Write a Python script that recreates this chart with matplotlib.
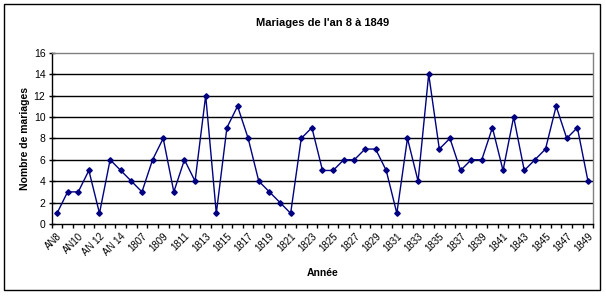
import matplotlib
matplotlib.use("Agg")
import matplotlib.pyplot as plt
from matplotlib.patches import Rectangle
from matplotlib.ticker import FixedLocator

plt.rcParams['font.family'] = ['Liberation Sans', 'DejaVu Sans']

# Données : nombre de mariages par année
annees = ['AN8', 'AN9', 'AN10', 'AN11', 'AN 12', 'AN 13', 'AN 14'] + \
         [str(a) for a in range(1806, 1850)]
mariages = [1, 3, 3, 5, 1, 6, 5, 4, 3, 6, 8, 3, 6, 4, 12, 1, 9, 11, 8, 4,
            3, 2, 1, 8, 9, 5, 5, 6, 6, 7, 7, 5, 1, 8, 4, 14, 7, 8, 5, 6,
            6, 9, 5, 10, 5, 6, 7, 11, 8, 9, 4]
y_ticks = [0, 2, 4, 6, 8, 10, 12, 14, 16]

W, H = 606, 296
fig = plt.figure(figsize=(W / 100, H / 100), dpi=100)

# cadre extérieur (style Excel)
fig.patches.append(Rectangle((4 / W, 1 - 290 / H), 596 / W, 286 / H,
                             transform=fig.transFigure, fill=False,
                             edgecolor='black', linewidth=1))

ax = fig.add_axes([51.7 / W, 1 - 224 / H, (593.3 - 51.7) / W, (224 - 52.7) / H])
x = list(range(len(annees)))
ax.plot(x, mariages, color='#000080', linewidth=1, marker='D',
        markersize=2.8, markerfacecolor='#000080', markeredgecolor='#000080')

ax.set_xlim(-0.5, len(annees) - 0.5)
ax.set_ylim(0, 16)

# lignes horizontales
for v in y_ticks[1:-1]:
    ax.axhline(v, color='black', linewidth=1, zorder=0)

ax.spines['top'].set_color('#808080')
ax.spines['right'].set_color('#808080')
ax.spines['left'].set_color('black')
ax.spines['bottom'].set_color('black')
for s in ax.spines.values():
    s.set_linewidth(1)

ax.set_yticks(y_ticks)
ax.tick_params(axis='y', direction='inout', length=5, width=1,
               labelsize=7.5, pad=2)

# graduations entre catégories, étiquettes une sur deux
ax.set_xticks(x[::2])
ax.set_xticklabels(annees[::2], rotation=45, ha='right', va='top',
                   rotation_mode='anchor', fontsize=7)
ax.xaxis.set_minor_locator(FixedLocator([i - 0.5 for i in range(len(annees) + 1)]))
ax.tick_params(axis='x', which='major', length=0, pad=5)
ax.tick_params(axis='x', which='minor', direction='out', length=3, width=1)

ax.set_title("Mariages de l'an 8 à 1849", fontsize=8, fontweight='bold', pad=19)
ax.set_ylabel('Nombre de mariages', fontsize=7.5, fontweight='bold', labelpad=3)
ax.set_xlabel('Année', fontsize=7.5, fontweight='bold', labelpad=8)

fig.savefig('out.png', dpi=100)
